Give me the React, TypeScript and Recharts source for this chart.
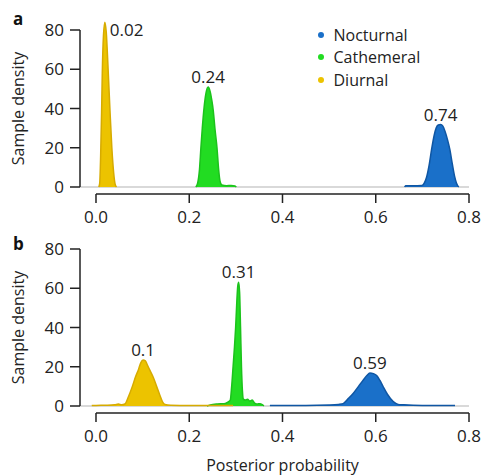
import { ComposedChart, Area, XAxis, YAxis, ReferenceLine, ReferenceDot, Legend } from "recharts";

type Pt = { p: number; d: number };

// panel a: posterior densities
const diurnalA: Pt[] = [
    { p: 0.006, d: 0 }, { p: 0.008, d: 2 }, { p: 0.01, d: 16 }, { p: 0.012, d: 38 },
    { p: 0.0135, d: 58 }, { p: 0.016, d: 77 }, { p: 0.019, d: 84 }, { p: 0.022, d: 79 },
    { p: 0.026, d: 60 }, { p: 0.03, d: 39 }, { p: 0.034, d: 20 }, { p: 0.038, d: 7 },
    { p: 0.041, d: 1.5 }, { p: 0.044, d: 0 },
];
const cathemeralA: Pt[] = [
    { p: 0.214, d: 0 }, { p: 0.218, d: 2 }, { p: 0.222, d: 9 }, { p: 0.225, d: 20 },
    { p: 0.228, d: 30 }, { p: 0.2316, d: 40 }, { p: 0.236, d: 48 }, { p: 0.2405, d: 51 },
    { p: 0.245, d: 48.5 }, { p: 0.2485, d: 44 }, { p: 0.2515, d: 39 }, { p: 0.255, d: 30 },
    { p: 0.2595, d: 20 }, { p: 0.263, d: 9 }, { p: 0.266, d: 3 }, { p: 0.27, d: 1 },
    { p: 0.28, d: 0.7 }, { p: 0.29, d: 0.8 }, { p: 0.298, d: 0.5 }, { p: 0.301, d: 0 },
];
const nocturnalA: Pt[] = [
    { p: 0.662, d: 0 }, { p: 0.664, d: 0.6 }, { p: 0.68, d: 0.6 }, { p: 0.699, d: 0.8 },
    { p: 0.704, d: 2 }, { p: 0.709, d: 5 }, { p: 0.714, d: 10.5 }, { p: 0.7197, d: 19 },
    { p: 0.725, d: 26 }, { p: 0.7295, d: 30 }, { p: 0.734, d: 31.6 }, { p: 0.739, d: 31.8 },
    { p: 0.744, d: 31 }, { p: 0.749, d: 28 }, { p: 0.754, d: 24 }, { p: 0.759, d: 19 },
    { p: 0.764, d: 12 }, { p: 0.769, d: 5.5 }, { p: 0.773, d: 2 }, { p: 0.776, d: 0.6 },
    { p: 0.778, d: 0 },
];

// panel b
const diurnalB: Pt[] = [
    { p: -0.009, d: 0.2 }, { p: 0.0, d: 0.3 }, { p: 0.02, d: 0.4 }, { p: 0.04, d: 0.6 },
    { p: 0.048, d: 1 }, { p: 0.055, d: 0.6 }, { p: 0.062, d: 1 }, { p: 0.07, d: 5 },
    { p: 0.078, d: 10 }, { p: 0.085, d: 15 }, { p: 0.091, d: 18.5 }, { p: 0.096, d: 22 },
    { p: 0.101, d: 23.4 }, { p: 0.106, d: 23 }, { p: 0.11, d: 21 }, { p: 0.116, d: 18 },
    { p: 0.123, d: 14.5 }, { p: 0.13, d: 10 }, { p: 0.137, d: 5.5 }, { p: 0.143, d: 2 },
    { p: 0.148, d: 0.8 }, { p: 0.16, d: 0.4 }, { p: 0.2, d: 0.3 }, { p: 0.25, d: 0.3 },
    { p: 0.294, d: 0.2 },
];
const cathemeralB: Pt[] = [
    { p: 0.238, d: 0 }, { p: 0.245, d: 0.5 }, { p: 0.26, d: 1 }, { p: 0.275, d: 1.2 },
    { p: 0.283, d: 2 }, { p: 0.288, d: 3 }, { p: 0.291, d: 10 }, { p: 0.294, d: 20 },
    { p: 0.297, d: 30 }, { p: 0.2995, d: 40 }, { p: 0.302, d: 53 }, { p: 0.304, d: 61 },
    { p: 0.306, d: 63 }, { p: 0.308, d: 58 }, { p: 0.31, d: 40 }, { p: 0.312, d: 20 },
    { p: 0.314, d: 8 }, { p: 0.316, d: 3.5 }, { p: 0.32, d: 3 }, { p: 0.325, d: 3.5 },
    { p: 0.33, d: 2.5 }, { p: 0.335, d: 3 }, { p: 0.34, d: 1.5 }, { p: 0.345, d: 1 },
    { p: 0.352, d: 1.2 }, { p: 0.358, d: 0.5 }, { p: 0.36, d: 0 },
];
const nocturnalB: Pt[] = [
    { p: 0.373, d: 0.2 }, { p: 0.4, d: 0.3 }, { p: 0.45, d: 0.3 }, { p: 0.5, d: 0.5 },
    { p: 0.52, d: 0.8 }, { p: 0.53, d: 1.2 }, { p: 0.54, d: 3.5 }, { p: 0.552, d: 6.5 },
    { p: 0.563, d: 10 }, { p: 0.573, d: 13.2 }, { p: 0.581, d: 15.5 }, { p: 0.5875, d: 16.8 },
    { p: 0.595, d: 16.5 }, { p: 0.602, d: 15.5 }, { p: 0.609, d: 13 }, { p: 0.616, d: 9.8 },
    { p: 0.625, d: 6 }, { p: 0.6375, d: 2.2 }, { p: 0.648, d: 0.8 }, { p: 0.66, d: 0.6 },
    { p: 0.68, d: 0.4 }, { p: 0.72, d: 0.3 }, { p: 0.77, d: 0.3 },
];

// mode labels, in the order nocturnal, cathemeral, diurnal
const modesA = ["0.74", "0.24", "0.02"];
const modesB = ["0.59", "0.31", "0.1"];

const seriesNames = ["Nocturnal", "Cathemeral", "Diurnal"];
const xTicks = [0, 0.2, 0.4, 0.6, 0.8];
const yTicks = [0, 20, 40, 60, 80];

const COLORS: Record<string, { fill: string; stroke: string }> = {
    Nocturnal: { fill: "#1a70c9", stroke: "#0f56a3" },
    Cathemeral: { fill: "#22dc22", stroke: "#1cc21c" },
    Diurnal: { fill: "#ecc300", stroke: "#d6ab00" },
};

const INK = "#222";
const FONT = "'Open Sans', sans-serif";
const NUM_SIZE = 17;

// geometry: 0..80 spans 157px, plot is 167px tall so the 84 peak fits
const PLOT_TOP = 20;
const PLOT_H = 167;
const Y_MAX = (80 * PLOT_H) / 157;
const X_MIN = -0.0343;
const X_MAX = 0.8;
const AXIS_GAP = -(7 / 157) * 80;

const peakOf = (arr: Pt[]) => arr.reduce((a, b) => (b.d > a.d ? b : a));

const XTick = (props: any) => {
    const { x, y, payload } = props;
    return (
        <g>
            <line x1={x} x2={x} y1={y + 7} y2={y + 16} stroke={INK} strokeWidth={1.5} />
            <text x={x} y={y + 36} textAnchor="middle" fontSize={NUM_SIZE} fill={INK}>
                {payload.value.toFixed(1)}
            </text>
        </g>
    );
};

const peakLabel = (text: string, right: boolean) => (props: any) => {
    const { cx, cy } = props;
    if (right) {
        return (
            <text x={cx + 5} y={cy + 14} fontSize={NUM_SIZE} fill={INK}>
                {text}
            </text>
        );
    }
    return (
        <text x={cx} y={cy - 4} textAnchor="middle" fontSize={NUM_SIZE} fill={INK}>
            {text}
        </text>
    );
};

const LegendBox = () => (
    <div style={{ fontFamily: FONT, fontSize: 16, color: INK, lineHeight: "22.5px" }}>
        {seriesNames.map((n) => (
            <div key={n} style={{ display: "flex", alignItems: "center" }}>
                <span
                    style={{
                        width: 6,
                        height: 6,
                        borderRadius: 3,
                        background: COLORS[n].fill,
                        marginRight: 10,
                        display: "inline-block",
                    }}
                />
                {n}
            </div>
        ))}
    </div>
);

type PanelProps = {
    series: Pt[][];
    modes: string[];
    height: number;
    legend?: boolean;
    title?: boolean;
};

function Panel({ series, modes, height, legend, title }: PanelProps) {
    const xAxisH = height - PLOT_TOP - PLOT_H;
    return (
        <ComposedChart
            width={484}
            height={height}
            margin={{ top: PLOT_TOP, right: 15, left: 20, bottom: 0 }}
        >
            <XAxis
                dataKey="p"
                type="number"
                domain={[X_MIN, X_MAX]}
                ticks={xTicks}
                axisLine={false}
                tickLine={false}
                tickSize={0}
                tickMargin={0}
                height={xAxisH}
                tick={<XTick />}
                label={
                    title
                        ? {
                              content: (p: any) => {
                                  const vb = p.viewBox;
                                  const cx = vb.x + ((0.4 - X_MIN) / (X_MAX - X_MIN)) * vb.width;
                                  return (
                                      <text x={cx} y={vb.y + 65} textAnchor="middle" fontSize={16} fill={INK}>
                                          Posterior probability
                                      </text>
                                  );
                              },
                          }
                        : undefined
                }
            />
            <YAxis
                type="number"
                domain={[0, Y_MAX]}
                ticks={yTicks}
                width={60}
                axisLine={false}
                tickSize={10}
                tickMargin={6}
                tickLine={{ stroke: INK, strokeWidth: 1.5 }}
                tick={{ fontSize: NUM_SIZE, fill: INK }}
                label={{
                    content: (p: any) => {
                        const vb = p.viewBox;
                        const cy = vb.y + vb.height - 78.5;
                        return (
                            <text
                                transform={`translate(24, ${cy}) rotate(-90)`}
                                textAnchor="middle"
                                fontSize={16}
                                fill={INK}
                            >
                                Sample density
                            </text>
                        );
                    },
                }}
            />
            <ReferenceLine y={0} stroke="#d9d9d9" strokeWidth={2} zIndex={-1} />
            {series.map((s, i) => {
                const c = COLORS[seriesNames[i]];
                return (
                    <Area
                        key={seriesNames[i]}
                        data={s}
                        dataKey="d"
                        type="monotone"
                        name={seriesNames[i]}
                        fill={c.fill}
                        fillOpacity={1}
                        stroke={c.stroke}
                        strokeWidth={1.5}
                        isAnimationActive={false}
                        dot={false}
                        activeDot={false}
                    />
                );
            })}
            <ReferenceLine
                segment={[{ x: X_MIN, y: 0 }, { x: X_MIN, y: 80 }]}
                stroke={INK}
                strokeWidth={1.5}
                ifOverflow="visible"
            />
            <ReferenceLine
                segment={[{ x: 0, y: AXIS_GAP }, { x: 0.8, y: AXIS_GAP }]}
                stroke={INK}
                strokeWidth={1.5}
                ifOverflow="visible"
            />
            {series.map((s, i) => {
                const pk = peakOf(s);
                return (
                    <ReferenceDot
                        key={"m" + i}
                        x={pk.p}
                        y={pk.d}
                        r={0}
                        ifOverflow="visible"
                        shape={peakLabel(modes[i], pk.d > 80)}
                    />
                );
            })}
            {legend && (
                <Legend
                    layout="horizontal"
                    verticalAlign="middle"
                    align="center"
                    content={<LegendBox />}
                    wrapperStyle={{ top: 23.5, left: 317.5, width: "auto" }}
                />
            )}
        </ComposedChart>
    );
}

const letterStyle = {
    position: "absolute" as const,
    left: 13,
    fontFamily: FONT,
    fontWeight: 700,
    fontSize: 17,
    lineHeight: "17px",
    color: "#111",
};

export default function App() {
    return (
        <div
            style={{
                position: "absolute",
                left: 0,
                top: 0,
                width: 484,
                height: 476,
                background: "#fff",
                fontFamily: FONT,
                overflow: "hidden",
            }}
        >
            <div style={{ position: "absolute", left: 0, top: 0 }}>
                <Panel series={[nocturnalA, cathemeralA, diurnalA]} modes={modesA} height={230} legend />
            </div>
            <div style={{ position: "absolute", left: 0, top: 219 }}>
                <Panel series={[nocturnalB, cathemeralB, diurnalB]} modes={modesB} height={257} title />
            </div>
            <div style={{ ...letterStyle, top: 10 }}>a</div>
            <div style={{ ...letterStyle, top: 235 }}>b</div>
        </div>
    );
}
